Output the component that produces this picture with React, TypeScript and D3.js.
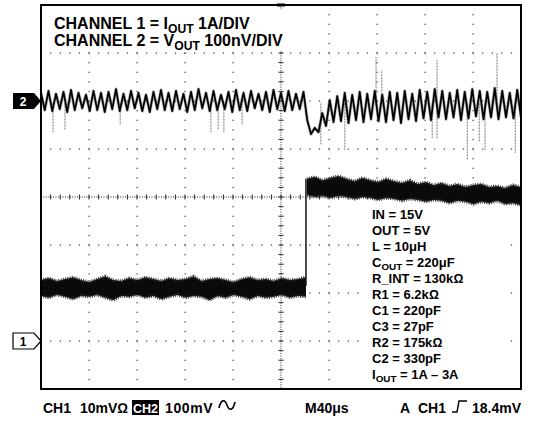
import * as d3 from "d3";

// scope screen in divisions: 10 across, 8 high, centre at (5, 0)
const timeDivs = [0, 10];
const voltDivs = [-4, 4];

// CH2 (Vout ripple), one sample every 10/128 div, in divisions
const ch2Trace = [
  2.17, 1.81, 2.21, 1.79, 2.15, 1.83, 2.19, 1.77, 2.23, 1.81,
  2.17, 1.85, 2.13, 1.79, 2.21, 1.81, 2.17, 1.77, 2.19, 1.83,
  2.25, 1.79, 2.15, 1.81, 2.21, 1.85, 2.17, 1.79, 2.13, 1.77,
  2.19, 1.83, 2.23, 1.81, 2.17, 1.79, 2.21, 1.83, 2.15, 1.77,
  2.19, 1.81, 2.25, 1.85, 2.17, 1.79, 2.21, 1.81, 2.13, 1.83,
  2.19, 1.77, 2.23, 1.81, 2.17, 1.79, 2.21, 1.85, 2.15, 1.81,
  2.19, 1.77, 2.23, 1.83, 2.17, 1.79, 2.21, 1.81, 2.15, 1.83,
  2.19, 1.60, 1.31, 1.44, 1.35, 1.75, 1.48, 2.02, 1.56, 2.10,
  1.58, 2.17, 1.54, 2.13, 1.60, 2.19, 1.56, 2.15, 1.62, 2.21,
  1.58, 2.13, 1.56, 2.19, 1.60, 2.17, 1.54, 2.21, 1.62, 2.15,
  1.58, 2.23, 1.64, 2.19, 1.60, 2.25, 1.66, 2.21, 1.62, 2.17,
  1.66, 2.23, 1.60, 2.19, 1.64, 2.25, 1.68, 2.21, 1.62, 2.19,
  1.66, 2.27, 1.62, 2.21, 1.66, 2.17, 1.64, 2.23, 1.66,
];
const ch2Base = 1.95;
// thin glitches on CH2: [time div, tip div]
const ch2Spikes = [
  [0.25, 1.35], [0.5, 1.4], [1.65, 1.5], [3.54, 1.35], [3.69, 1.4],
  [3.81, 1.35], [4.19, 1.5], [5.83, 1.08], [6.33, 0.98], [6.98, 2.92],
  [7.1, 2.65], [8.15, 1.23], [8.25, 2.85], [8.25, 1.2], [8.88, 0.77],
  [9.13, 1.15], [9.25, 0.98], [9.5, 3.0], [9.88, 0.92],
];

// CH1 (Iout) noise band, before and after the load step
const ch1StepTime = 5.52;
const ch1LeftTop = [
  -1.73, -1.69, -1.75, -1.71, -1.67, -1.73, -1.77, -1.71, -1.65, -1.73,
  -1.75, -1.69, -1.73, -1.67, -1.71, -1.75, -1.69, -1.73, -1.71, -1.65,
  -1.75, -1.71, -1.69, -1.73, -1.77, -1.71, -1.67, -1.73, -1.71, -1.75,
  -1.69, -1.73, -1.71, -1.67,
];
const ch1LeftBottom = [
  -2.06, -2.1, -2.04, -2.08, -2.13, -2.06, -2.08, -2.04, -2.1, -2.15,
  -2.06, -2.08, -2.04, -2.1, -2.06, -2.13, -2.08, -2.04, -2.1, -2.06,
  -2.08, -2.15, -2.06, -2.1, -2.04, -2.08, -2.13, -2.06, -2.1, -2.08,
  -2.04, -2.1, -2.06, -2.08,
];
const ch1RightTop = [
  0.38, 0.42, 0.35, 0.4, 0.44, 0.38, 0.33, 0.4, 0.35, 0.31,
  0.38, 0.33, 0.29, 0.35, 0.27, 0.31, 0.25, 0.29, 0.23, 0.27,
  0.21, 0.25, 0.27, 0.21, 0.23, 0.19, 0.25, 0.21,
];
const ch1RightBottom = [
  0.04, 0.0, 0.02, -0.02, 0.02, 0.0, -0.04, 0.0, -0.02, -0.06,
  -0.02, -0.04, -0.08, -0.04, -0.06, -0.1, -0.06, -0.08, -0.13, -0.08,
  -0.1, -0.15, -0.1, -0.13, -0.08, -0.15, -0.13, -0.17,
];

const ch1Ground = -3;
const ch2Ground = 2;

// text: [text, isSubscript]
const titleLines: [string, boolean][][] = [
  [["CHANNEL 1 = I", false], ["OUT", true], [" 1A/DIV", false]],
  [["CHANNEL 2 = V", false], ["OUT", true], [" 100nV/DIV", false]],
];
const paramLines: [string, boolean][][] = [
  [["IN = 15V", false]],
  [["OUT = 5V", false]],
  [["L = 10\u03bcH", false]],
  [["C", false], ["OUT", true], [" = 220\u03bcF", false]],
  [["R_INT = 130k\u2126", false]],
  [["R1 = 6.2k\u2126", false]],
  [["C1 = 220pF", false]],
  [["C3 = 27pF", false]],
  [["R2 = 175k\u2126", false]],
  [["C2 = 330pF", false]],
  [["I", false], ["OUT", true], [" = 1A \u2013 3A", false]],
];

const FONT = "'Liberation Sans', Arial, Helvetica, sans-serif";

function RichText({ parts, x, y, size }: { parts: [string, boolean][]; x: number; y: number; size: number }) {
  let shifted = false;
  return (
    <text x={x} y={y} fontFamily={FONT} fontWeight="bold" fontSize={size} fill="#000">
      {parts.map(([s, sub], i) => {
        let dy = 0;
        if (sub && !shifted) { dy = size * 0.22; shifted = true; }
        else if (!sub && shifted) { dy = -size * 0.22; shifted = false; }
        return (
          <tspan key={i} dy={dy} fontSize={sub ? size * 0.76 : size}>{s}</tspan>
        );
      })}
    </text>
  );
}

export default function App() {
  const x = d3.scaleLinear().domain(timeDivs).range([41, 521]);
  const y = d3.scaleLinear().domain(voltDivs).range([389, 5]);

  const step2 = (timeDivs[1] - timeDivs[0]) / (ch2Trace.length - 1);
  const ch2Line = d3.line<number>()
    .x((_, i) => x(i * step2))
    .y(d => y(d));

  const leftT = d3.scaleLinear().domain([0, ch1LeftTop.length - 1]).range([0, ch1StepTime]);
  const rightT = d3.scaleLinear().domain([0, ch1RightTop.length - 1]).range([ch1StepTime + 0.02, 10]);
  const band = (top: number[], bot: number[], tAt: (i: number) => number) =>
    d3.area<number>()
      .x((_, i) => x(tAt(i)))
      .y0((_, i) => y(bot[i]))
      .y1(d => y(d))(top) as string;
  const edge = (vals: number[], tAt: (i: number) => number) =>
    d3.line<number>().x((_, i) => x(tAt(i))).y(d => y(d))(vals) as string;

  const majorX = d3.range(1, 10);
  const majorY = d3.range(-3, 4);
  const minorT = d3.range(0, 50.5).map(k => k * 0.2);
  const minorV = d3.range(0, 40.5).map(k => -4 + k * 0.2);

  const dots: JSX.Element[] = [];
  majorX.filter(t => t !== 5).forEach(t =>
    minorV.forEach((v, j) => dots.push(<rect key={`vx${t}-${j}`} x={x(t) - 0.5} y={y(v) - 0.5} width={1.2} height={1.2} fill="#333" />))
  );
  majorY.filter(v => v !== 0).forEach(v =>
    minorT.forEach((t, j) => dots.push(<rect key={`hy${v}-${j}`} x={x(t) - 0.5} y={y(v) - 0.5} width={1.2} height={1.2} fill="#333" />))
  );

  const cx = x(5), cy = y(0);
  const pent = (tipX: number, cyv: number) =>
    `M${tipX - 28},${cyv - 8} H${tipX - 7} L${tipX},${cyv} L${tipX - 7},${cyv + 8} H${tipX - 28} Z`;

  return (
    <svg width={535} height={423} style={{ position: "absolute", left: 0, top: 0, background: "#fff" }}>
      <rect width={535} height={423} fill="#fff" />
      <defs>
        <clipPath id="screen">
          <rect x={x(0)} y={y(4)} width={x(10) - x(0)} height={y(-4) - y(4)} />
        </clipPath>
      </defs>

      {/* graticule */}
      <g>{dots}</g>
      <line x1={x(0)} x2={x(10)} y1={cy} y2={cy} stroke="#222" strokeWidth={1} strokeDasharray="1 1.4" />
      <line x1={cx} x2={cx} y1={y(4)} y2={y(-4)} stroke="#222" strokeWidth={1} strokeDasharray="1 1.4" />
      {minorT.map((t, i) => (
        <line key={`ct${i}`} x1={x(t)} x2={x(t)} y1={cy - 2.5} y2={cy + 2.5} stroke="#222" strokeWidth={1} />
      ))}
      {minorV.map((v, i) => (
        <line key={`cv${i}`} x1={cx - 2.5} x2={cx + 2.5} y1={y(v)} y2={y(v)} stroke="#222" strokeWidth={1} />
      ))}

      {/* blanked text areas */}
      <rect x={48} y={10} width={238} height={41} fill="#fff" />
      <rect x={366} y={204} width={137} height={180} fill="#fff" />

      {/* traces */}
      <g clipPath="url(#screen)">
        {ch2Spikes.map(([t, v], i) => (
          <line key={`sp${i}`} x1={x(t)} x2={x(t)} y1={y(ch2Base)} y2={y(v)} stroke="#777" strokeWidth={1} strokeDasharray="2 1" />
        ))}
        <path d={ch2Line(ch2Trace) as string} fill="none" stroke="#555" strokeWidth={3} strokeLinejoin="round" opacity={0.5} />
        <path d={ch2Line(ch2Trace) as string} fill="none" stroke="#000" strokeWidth={1.7} strokeLinejoin="round" />

        <path d={band(ch1LeftTop, ch1LeftBottom, leftT)} fill="#0a0a0a" />
        <path d={band(ch1RightTop, ch1RightBottom, rightT)} fill="#0a0a0a" />
        {[ch1LeftTop, ch1LeftBottom].map((vals, i) => (
          <path key={`le${i}`} d={edge(vals, leftT)} fill="none" stroke="#333" strokeWidth={3} strokeDasharray="1 1.3" />
        ))}
        {[ch1RightTop, ch1RightBottom].map((vals, i) => (
          <path key={`re${i}`} d={edge(vals, rightT)} fill="none" stroke="#333" strokeWidth={3} strokeDasharray="1 1.3" />
        ))}
        <line x1={x(ch1StepTime)} x2={x(ch1StepTime)} y1={y(-1.85)} y2={y(ch1RightTop[0])} stroke="#111" strokeWidth={1.5} />
      </g>

      {/* frame */}
      <rect x={x(0)} y={y(4)} width={x(10) - x(0)} height={y(-4) - y(4)} fill="none" stroke="#000" strokeWidth={2} />
      <rect x={x(5) - 4} y={y(4) - 1.5} width={8} height={3} fill="#000" />

      {/* channel ground markers */}
      <path d={pent(x(0), y(ch2Ground))} fill="#000" />
      <text x={x(0) - 18} y={y(ch2Ground) + 4.5} textAnchor="middle" fontFamily={FONT} fontWeight="bold" fontSize={12} fill="#fff">2</text>
      <path d={pent(x(0), y(ch1Ground))} fill="#fff" stroke="#000" strokeWidth={1.2} />
      <text x={x(0) - 18} y={y(ch1Ground) + 4.5} textAnchor="middle" fontFamily={FONT} fontWeight="bold" fontSize={12} fill="#000">1</text>

      {/* annotations */}
      {titleLines.map((parts, i) => (
        <RichText key={`t${i}`} parts={parts} x={54} y={29 + i * 17} size={16} />
      ))}
      {paramLines.map((parts, i) => (
        <RichText key={`p${i}`} parts={parts} x={372} y={219 + i * 16} size={13} />
      ))}

      {/* status line */}
      <g fontFamily={FONT} fontWeight="bold" fontSize={14} fill="#000">
        <text x={43} y={413}>CH1</text>
        <text x={80} y={413}>10mV{"\u2126"}</text>
        <rect x={132} y={400} width={27} height={15} fill="#000" />
        <text x={145.5} y={412.5} textAnchor="middle" fill="#fff" fontSize={12.5}>CH2</text>
        <text x={165} y={413} letterSpacing={0.6}>100mV</text>
        <text x={305} y={413}>M40{"\u03bc"}s</text>
        <text x={400} y={413}>A</text>
        <text x={418} y={413}>CH1</text>
        <text x={472} y={413}>18.4mV</text>
      </g>
      <path d="M219,408 C221,399 225,399 227,405 C229,411 233,411 235,402" fill="none" stroke="#000" strokeWidth={1.6} />
      <path d="M452,412 H457 L459,401 H467" fill="none" stroke="#000" strokeWidth={1.4} />
    </svg>
  );
}
